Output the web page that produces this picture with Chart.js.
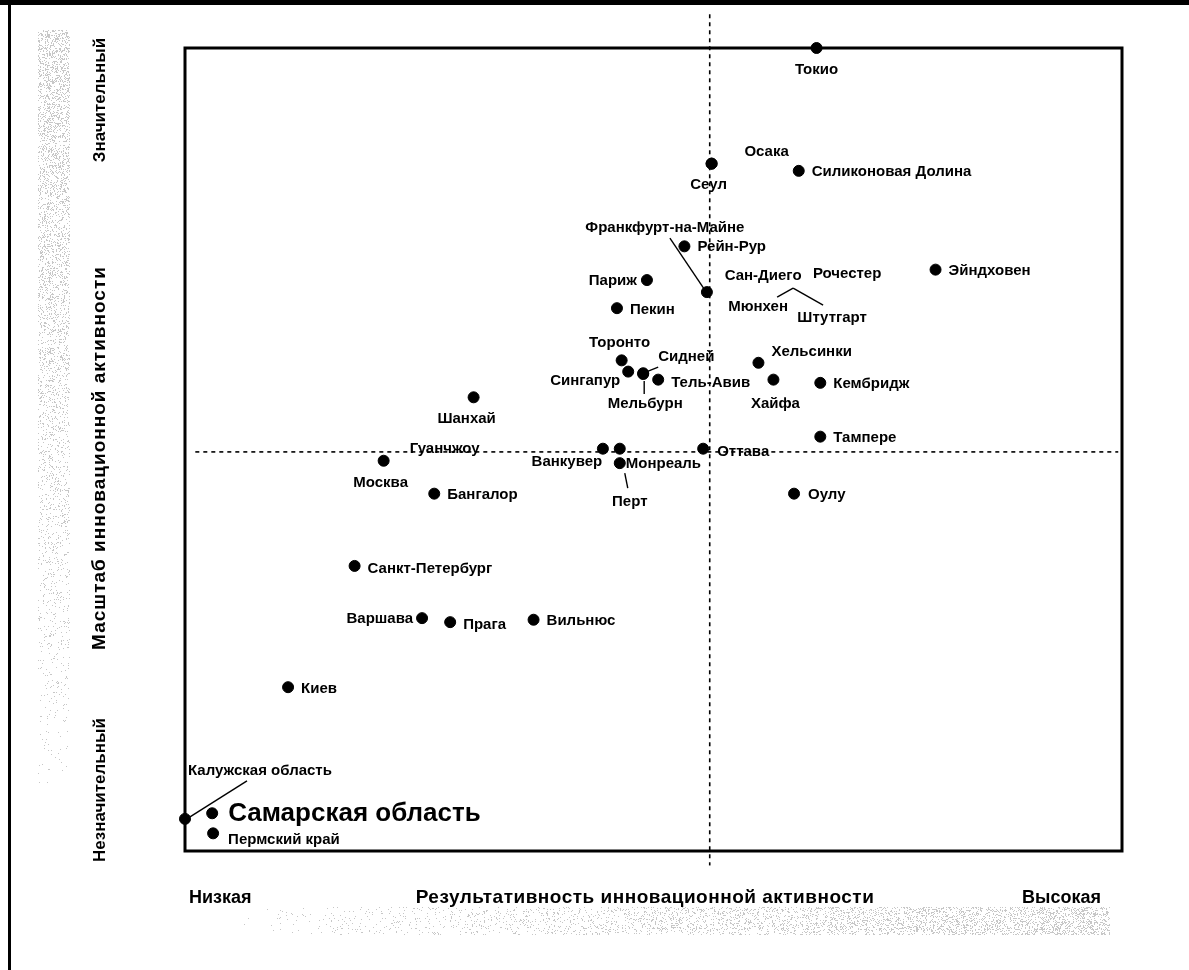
<!DOCTYPE html>
<html>
<head>
<meta charset="utf-8">
<script src="https://cdn.jsdelivr.net/npm/chart.js@4"></script>
<style>
  html, body { margin: 0; padding: 0; background: #fff; }
  canvas { display: block; }
</style>
</head>
<body>
<canvas id="matrix" width="1189" height="970"></canvas>
<script>
// regions: result of innovation (x) vs scale of innovation (y), 0..100
let regions = ['Токио', 'Осака', 'Сеул', 'Силиконовая Долина', 'Рейн-Рур', 'Франкфурт-на-Майне',
    'Париж', 'Пекин', 'Сан-Диего', 'Рочестер', 'Мюнхен', 'Штутгарт', 'Эйндховен',
    'Торонто', 'Сингапур', 'Сидней', 'Мельбурн', 'Тель-Авив', 'Хельсинки', 'Хайфа',
    'Кембридж', 'Тампере', 'Шанхай', 'Гуанчжоу', 'Москва', 'Бангалор', 'Ванкувер',
    'Монреаль', 'Перт', 'Оттава', 'Оулу', 'Санкт-Петербург', 'Варшава', 'Прага',
    'Вильнюс', 'Киев', 'Калужская область', 'Самарская область', 'Пермский край'];
let results = [67.4, 56.2, 56.2, 65.5, 53.3, 55.7, 49.3, 46.1, 64.9, 64.9, 64.9, 64.9, 80.1,
    46.6, 47.3, 48.9, 48.9, 50.5, 61.2, 62.8, 67.8, 67.8, 30.8, 29.2, 21.2, 26.6, 44.6,
    46.4, 46.4, 55.3, 65.0, 18.1, 25.3, 28.3, 37.2, 11.0, 0.0, 2.9, 3.0];
let scales = [100, 85.6, 85.6, 84.7, 75.3, 69.6, 71.1, 67.6, 70.1, 70.1, 70.1, 70.1, 72.4,
    61.1, 59.7, 59.5, 59.4, 58.7, 60.8, 58.7, 58.3, 51.6, 56.5, 49.2, 48.6, 44.5, 50.1,
    50.1, 48.3, 50.1, 44.5, 35.5, 29.0, 28.5, 28.8, 20.4, 4.0, 4.7, 2.2];
// cities shown only by a label (no dot)
let noDot = ['Сан-Диего', 'Рочестер', 'Мюнхен', 'Штутгарт', 'Гуанчжоу'];

// quadrant dividers
let medianResult = 56.0;
let medianScale = 49.7;

let xLabels = ['Низкая', 'Результативность инновационной активности', 'Высокая'];
let yLabels = ['Незначительный', 'Масштаб инновационной активности', 'Значительный'];

// label offsets from the dot: [dx, dy, align], plus optional leader line
let place = {
    'Токио': [0, 22, 'center'],
    'Осака': [55, -12, 'center'],
    'Сеул': [-3, 21, 'center'],
    'Силиконовая Долина': [13, 1, 'left'],
    'Рейн-Рур': [13, 1, 'left'],
    'Франкфурт-на-Майне': [-42, -64, 'center', [-37, -54, -2, -2]],
    'Париж': [-10, 1, 'right'],
    'Пекин': [13, 2, 'left'],
    'Сан-Диего': [-30, -12, 'center'],
    'Рочестер': [54, -14, 'center'],
    'Мюнхен': [-35, 19, 'center', [-16, 9, 0, 0]],
    'Штутгарт': [39, 30, 'center', [0, 0, 30, 17]],
    'Эйндховен': [13, 1, 'left'],
    'Торонто': [-2, -18, 'center'],
    'Сингапур': [-8, 9, 'right'],
    'Сидней': [15, -16, 'left', [5, -2, 15, -6]],
    'Мельбурн': [2, 30, 'center', [1, 7, 1, 20]],
    'Тель-Авив': [13, 3, 'left'],
    'Хельсинки': [13, -11, 'left'],
    'Хайфа': [2, 24, 'center'],
    'Кембридж': [13, 1, 'left'],
    'Тампере': [13, 1, 'left'],
    'Шанхай': [-7, 22, 'center'],
    'Гуанчжоу': [-14, -7, 'center'],
    'Москва': [-3, 22, 'center'],
    'Бангалор': [13, 1, 'left'],
    'Ванкувер': [-36, 13, 'center'],
    'Монреаль': [6, 15, 'left'],
    'Перт': [10, 39, 'center', [5, 10, 8, 25]],
    'Оттава': [14, 3, 'left'],
    'Оулу': [14, 1, 'left'],
    'Санкт-Петербург': [13, 3, 'left'],
    'Варшава': [-9, 1, 'right'],
    'Прага': [13, 3, 'left'],
    'Вильнюс': [13, 1, 'left'],
    'Киев': [13, 2, 'left'],
    'Калужская область': [3, -48, 'left', [5, -2, 62, -38]],
    'Самарская область': [16, 1, 'left'],
    'Пермский край': [15, 7, 'left']
};

let points = regions.map((name, i) => ({ x: results[i], y: scales[i] }));
let radii = regions.map(name => noDot.includes(name) ? 0 : 5.5);

const FONT = '"Liberation Sans", Arial, sans-serif';

// grainy grey band left by the scanner, denser towards one end
function grain(ctx, x0, y0, w, h, densityAt) {
    ctx.fillStyle = 'rgba(0,0,0,0.22)';
    for (let j = 0; j < h; j++) {
        for (let i = 0; i < w; i++) {
            const hsh = (((x0 + i) * 73856093) ^ ((y0 + j) * 19349663)) >>> 0;
            if ((hsh % 1000) / 1000 < densityAt(i / w, j / h)) {
                ctx.fillRect(x0 + i, y0 + j, 1, 1);
            }
        }
    }
}

const decor = {
    id: 'decor',
    beforeDraw(chart) {
        const ctx = chart.ctx;
        ctx.save();
        ctx.fillStyle = '#fff';
        ctx.fillRect(0, 0, chart.width, chart.height);
        // page edges
        ctx.fillStyle = '#000';
        ctx.fillRect(0, 0, chart.width, 5);
        ctx.fillRect(8, 0, 3, chart.height);
        grain(ctx, 38, 30, 32, 760, (u, v) => 0.3 * (1 - v));
        grain(ctx, 240, 907, 870, 28, (u, v) => 0.3 * u);
        ctx.restore();
    },
    afterDatasetsDraw(chart) {
        const ctx = chart.ctx;
        const a = chart.chartArea;
        const meta = chart.getDatasetMeta(0);
        ctx.save();
        // plot frame
        ctx.strokeStyle = '#000';
        ctx.lineWidth = 3;
        ctx.strokeRect(a.left, a.top, a.right - a.left, a.bottom - a.top);

        // point labels
        ctx.fillStyle = '#000';
        ctx.lineWidth = 1.4;
        ctx.textBaseline = 'middle';
        regions.forEach((name, i) => {
            const p = meta.data[i];
            const pl = place[name];
            ctx.font = name === 'Самарская область' ? 'bold 26px ' + FONT : 'bold 15px ' + FONT;
            ctx.textAlign = pl[2];
            ctx.fillText(name, p.x + pl[0], p.y + pl[1]);
            if (pl[3]) {
                const l = pl[3];
                ctx.beginPath();
                ctx.moveTo(p.x + l[0], p.y + l[1]);
                ctx.lineTo(p.x + l[2], p.y + l[3]);
                ctx.stroke();
            }
        });

        // axis captions
        ctx.font = 'bold 18px ' + FONT;
        ctx.textAlign = 'left';
        ctx.fillText(xLabels[0], 189, 898);
        ctx.textAlign = 'right';
        ctx.fillText(xLabels[2], 1101, 898);
        ctx.font = 'bold 19px ' + FONT;
        ctx.letterSpacing = '0.5px';
        ctx.textAlign = 'center';
        ctx.fillText(xLabels[1], 645, 898);
        ctx.letterSpacing = '0px';

        ctx.translate(100, 0);
        ctx.rotate(-Math.PI / 2);
        ctx.font = 'bold 17px ' + FONT;
        ctx.textAlign = 'center';
        ctx.fillText(yLabels[0], -790, 0);
        ctx.fillText(yLabels[2], -100, 0);
        ctx.font = 'bold 19px ' + FONT;
        ctx.letterSpacing = '1px';
        ctx.fillText(yLabels[1], -458, 0);
        ctx.restore();
    }
};

new Chart('matrix', {
    type: 'scatter',
    data: {
        datasets: [{
            data: points,
            backgroundColor: '#000',
            borderColor: '#000',
            pointRadius: radii,
            pointHoverRadius: radii,
            clip: false
        }, {
            type: 'line',
            data: [{ x: medianResult, y: 104.2 }, { x: medianResult, y: -1.8 }],
            borderColor: '#000',
            borderWidth: 1.6,
            borderDash: [4, 4],
            pointRadius: 0,
            clip: false
        }, {
            type: 'line',
            data: [{ x: 1.1, y: medianScale }, { x: 99.6, y: medianScale }],
            borderColor: '#000',
            borderWidth: 1.6,
            borderDash: [4, 4],
            pointRadius: 0,
            clip: false
        }]
    },
    options: {
        responsive: false,
        animation: false,
        layout: {
            padding: { left: 185, top: 48, right: 67, bottom: 119 }
        },
        scales: {
            x: { type: 'linear', min: 0, max: 100, display: false },
            y: { type: 'linear', min: 0, max: 100, display: false }
        },
        plugins: {
            legend: { display: false },
            tooltip: { enabled: false }
        }
    },
    plugins: [decor]
});
</script>
</body>
</html>
